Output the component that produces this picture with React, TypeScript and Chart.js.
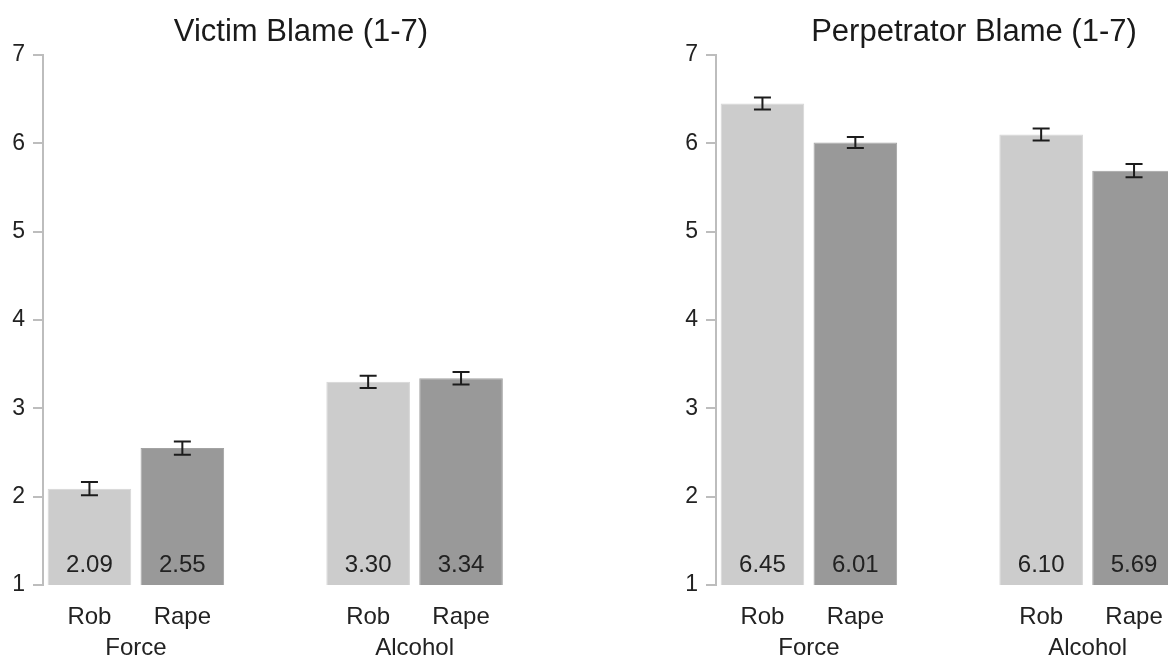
import React, { useEffect, useRef } from "react";
import { Chart, registerables } from "chart.js";

Chart.register(...registerables);

// ---- data ----
const groups = ["Force", "Alcohol"];
const crimes = ["Rob", "Rape"];
const yTicks = [1, 2, 3, 4, 5, 6, 7];

const victimTitle = "Victim Blame (1-7)";
const victimBlame = [2.09, 2.55, 3.3, 3.34];
const victimErr = [0.075, 0.075, 0.07, 0.07];

const perpTitle = "Perpetrator Blame (1-7)";
const perpBlame = [6.45, 6.01, 6.1, 5.69];
const perpErr = [0.068, 0.063, 0.068, 0.075];

const barColors = ["#cccccc", "#999999"];
const barBorders = ["#d6d6d6", "#a3a3a3"];

const FONT = "'Liberation Sans', Arial, sans-serif";

function buildSlots(values: number[], errs: number[]) {
  const labels: string[] = [];
  const data: (number | null)[] = [];
  const err: (number | null)[] = [];
  const colors: string[] = [];
  const borders: string[] = [];
  const slotGroup: number[] = [];
  groups.forEach((g, gi) => {
    if (gi > 0) {
      labels.push("");
      data.push(null);
      err.push(null);
      colors.push("rgba(0,0,0,0)");
      borders.push("rgba(0,0,0,0)");
      slotGroup.push(-1);
    }
    crimes.forEach((c, ci) => {
      const k = gi * crimes.length + ci;
      labels.push(c);
      data.push(values[k]);
      err.push(errs[k]);
      colors.push(barColors[ci]);
      borders.push(barBorders[ci]);
      slotGroup.push(gi);
    });
  });
  return { labels, data, err, colors, borders, slotGroup };
}

function makeAnnotPlugin(title: string, err: (number | null)[], slotGroup: number[]) {
  return {
    id: "annot",
    afterDatasetsDraw(chart: any) {
      const ctx = chart.ctx;
      const ys = chart.scales.y;
      const meta = chart.getDatasetMeta(0);
      const vals = chart.data.datasets[0].data;
      const base = ys.getPixelForValue(ys.min);
      ctx.save();
      meta.data.forEach((el: any, i: number) => {
        const v = vals[i];
        if (v == null) return;
        const e = err[i] as number;
        const top = ys.getPixelForValue(v + e);
        const bot = ys.getPixelForValue(v - e);
        const cw = 8.5;
        ctx.strokeStyle = "#1c1c1c";
        ctx.lineWidth = 2;
        ctx.beginPath();
        ctx.moveTo(el.x, top);
        ctx.lineTo(el.x, bot);
        ctx.moveTo(el.x - cw, top);
        ctx.lineTo(el.x + cw, top);
        ctx.moveTo(el.x - cw, bot);
        ctx.lineTo(el.x + cw, bot);
        ctx.stroke();
        ctx.fillStyle = "#222222";
        ctx.font = `24px ${FONT}`;
        ctx.textAlign = "center";
        ctx.textBaseline = "alphabetic";
        ctx.fillText(v.toFixed(2), el.x, base - 13);
      });
      // group labels
      groups.forEach((g, gi) => {
        const xs: number[] = [];
        slotGroup.forEach((sg, i) => {
          if (sg === gi) xs.push(meta.data[i].x);
        });
        const cx = xs.reduce((a, b) => a + b, 0) / xs.length;
        ctx.fillStyle = "#222222";
        ctx.font = `24px ${FONT}`;
        ctx.textAlign = "center";
        ctx.textBaseline = "alphabetic";
        ctx.fillText(g, cx, base + 70);
      });
      // title
      ctx.fillStyle = "#1a1a1a";
      ctx.font = `31px ${FONT}`;
      ctx.textAlign = "center";
      ctx.textBaseline = "alphabetic";
      ctx.fillText(title, chart.width / 2, chart.chartArea.top - 14);
      ctx.restore();
    },
  };
}

function Panel({ title, values, errs, left }: { title: string; values: number[]; errs: number[]; left: number }) {
  const ref = useRef<HTMLCanvasElement | null>(null);
  useEffect(() => {
    if (!ref.current) return;
    const s = buildSlots(values, errs);
    const chart = new Chart(ref.current, {
      type: "bar",
      data: {
        labels: s.labels,
        datasets: [
          {
            data: s.data as any,
            backgroundColor: s.colors,
            borderColor: s.borders,
            borderWidth: 1,
            barPercentage: 0.9,
            categoryPercentage: 1.0,
          },
        ],
      },
      options: {
        responsive: false,
        animation: false,
        devicePixelRatio: 1,
        layout: { padding: { left: 12, top: 55, right: 94.5, bottom: 25 } },
        plugins: {
          legend: { display: false },
          title: { display: false },
          tooltip: { enabled: false },
        },
        scales: {
          x: {
            grid: { display: false, drawTicks: false },
            border: { display: false },
            ticks: { color: "#222222", font: { family: FONT, size: 24 }, padding: 18 },
            afterFit: (axis: any) => {
              axis.height = 70;
            },
          },
          y: {
            min: 1,
            max: 7,
            afterBuildTicks: (axis: any) => {
              axis.ticks = yTicks.map((v) => ({ value: v }));
            },
            ticks: { color: "#222222", font: { family: FONT, size: 23 }, padding: 8 },
            grid: {
              display: true,
              drawOnChartArea: false,
              drawTicks: true,
              tickLength: 10,
              color: "#bdbdbd",
              lineWidth: 2,
            },
            border: { display: true, color: "#bdbdbd", width: 2 },
            afterFit: (axis: any) => {
              axis.width = 31;
            },
          },
        },
      },
      plugins: [makeAnnotPlugin(title, s.err, s.slotGroup)],
    });
    return () => chart.destroy();
  }, []);
  return (
    <div style={{ position: "absolute", left, top: 0 }}>
      <canvas ref={ref} width={602} height={680} style={{ display: "block" }} />
    </div>
  );
}

export default function App() {
  return (
    <div
      style={{
        position: "fixed",
        left: 0,
        top: 0,
        width: 1168,
        height: 656,
        overflow: "hidden",
        background: "#ffffff",
      }}
    >
      <Panel title={victimTitle} values={victimBlame} errs={victimErr} left={0} />
      <Panel title={perpTitle} values={perpBlame} errs={perpErr} left={673} />
    </div>
  );
}
